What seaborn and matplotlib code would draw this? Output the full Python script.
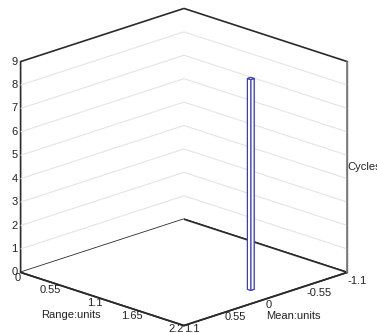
import matplotlib
matplotlib.use("Agg")
import matplotlib.pyplot as plt
from mpl_toolkits.mplot3d import proj3d
import seaborn as sns

# data
range_vals = [1.9]
mean_vals = [-0.1]
cycles = [9]
bar_w = 0.045

range_ticks = [0, 0.55, 1.1, 1.65, 2.2]
mean_ticks = [1.1, 0.55, 0, -0.55, -1.1]
cycle_ticks = list(range(10))

sns.set_style("white")
plt.rcParams["font.family"] = ["Liberation Sans", "DejaVu Sans"]

fig = plt.figure(figsize=(3.77, 3.33), dpi=100)
ax = fig.add_axes([-0.024, -0.015, 1, 1], projection="3d", proj_type="ortho")
ax.view_init(elev=19, azim=-45)
ax.set_box_aspect((1, 1, 0.965), zoom=1.153)

ax.set_xlim(0, 2.2)
ax.set_ylim(1.1, -1.1)
ax.set_zlim(0, 9)

# bar
for r, m, c in zip(range_vals, mean_vals, cycles):
    ax.bar3d(r - bar_w / 2, m - bar_w / 2, 0, bar_w, bar_w, c,
             color="white", edgecolor="#3a3ac8", linewidth=0.8, shade=False)

# panes / frame
for axis in (ax.xaxis, ax.yaxis, ax.zaxis):
    axis.set_pane_color((1, 1, 1, 1))
    axis.pane.set_alpha(1)
    axis.pane.set_edgecolor("#2a2a2a")
    axis.pane.set_linewidth(1.2)
    axis.line.set_color("#2a2a2a")
    axis.line.set_linewidth(1.2)
    axis._axinfo["tick"]["inward_factor"] = 0
    axis._axinfo["tick"]["outward_factor"] = 0
    axis.label.set_visible(False)
    axis.offsetText.set_visible(False)
ax.zaxis.line.set_color("#888888")

# grid only on the inner z levels so the frame stays dark
ax.set_xticks([])
ax.set_yticks([])
ax.set_zticks(cycle_ticks[1:-1])
ax.set_zticklabels([])
ax.zaxis._axinfo["grid"]["color"] = "#e4e4e4"
ax.zaxis._axinfo["grid"]["linewidth"] = 0.8
ax.grid(True)

# labels: project the 3d anchor once, then place as plain 2d text
fig.canvas.draw()
M = ax.get_proj()
fs = 8
def lab(x, y, z, s, dx=0, dy=0, **kw):
    px, py, _ = proj3d.proj_transform(x, y, z, M)
    ax.annotate(s, xy=(px, py), xycoords="data", xytext=(dx, dy),
                textcoords="offset pixels", fontsize=fs, color="#222222",
                annotation_clip=False, **kw)

for i, t in enumerate(range_ticks):
    lab(t, 1.1, 0, f"{t:g}", dx=0, dy=-(5.2 - 0.55 * i), ha="right", va="center")
for i, t in enumerate(mean_ticks):
    lab(2.2, t, 0, f"{t:g}", dx=0, dy=-(3 + 1.5 * i), ha="left", va="center")
for t in cycle_ticks:
    lab(0, 1.1, t, str(t), dx=-3, dy=0, ha="right", va="center")

lab(1.1, 1.1, 0, "Range:units", dx=-31, dy=-16.5, ha="center", va="center")
lab(2.2, 0, 0, "Mean:units", dx=0, dy=-17.5, ha="left", va="center")
lab(2.2, -1.1, 4.5, "Cycles", dx=0, dy=0, ha="left", va="center")

fig.savefig("out.png", dpi=100)
